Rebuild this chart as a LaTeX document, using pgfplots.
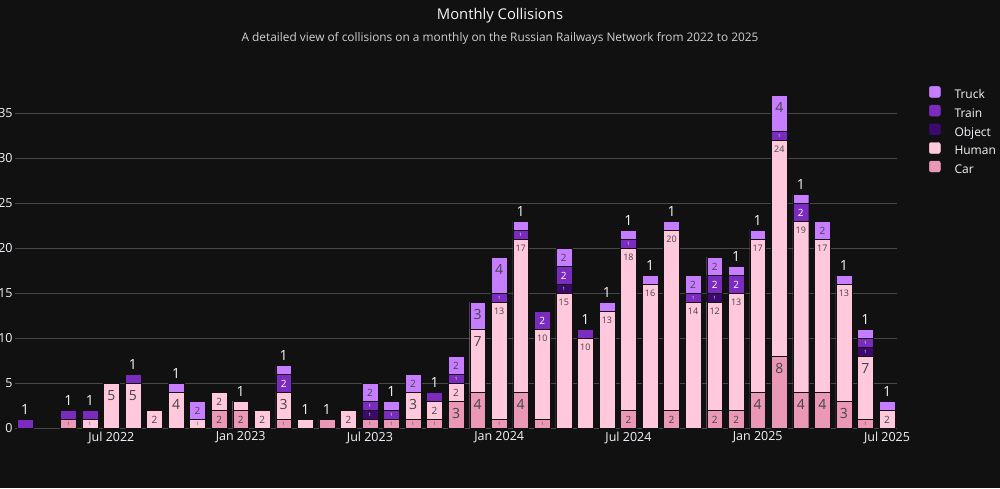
\documentclass[border=0pt]{standalone}
\usepackage{fontspec}
\setmainfont{Open Sans}
\usepackage{pgfplots}
\usepackage{pgfplotstable}
\pgfplotsset{compat=1.18}

\definecolor{bg}{HTML}{111111}
\definecolor{gridc}{HTML}{474747}
\definecolor{txt}{HTML}{F2F5FA}
\definecolor{subtxt}{HTML}{D0D0D0}
\definecolor{ink}{HTML}{444444}
\definecolor{truckc}{HTML}{C77DFF}
\definecolor{trainc}{HTML}{7B2CBF}
\definecolor{objectc}{HTML}{3C096C}
\definecolor{humanc}{HTML}{FFC8DD}
\definecolor{carc}{HTML}{EA98B6}

% m = months since Mar 2022
% l* = label of each segment: 0 none, 99 a single collision on top (written above the bar)
\pgfplotstableread{
m  car human object train truck lc lh lo ltr ltk
0  0   0     0      1     0     0  0  0  99  0
2  1   0     0      1     0     1  0  0  99  0
3  0   1     0      1     0     0  1  0  99  0
4  0   5     0      0     0     0  5  0  0   0
5  0   5     0      1     0     0  5  0  99  0
6  0   2     0      0     0     0  2  0  0   0
7  0   4     0      0     1     0  4  0  0   99
8  0   1     0      0     2     0  1  0  0   2
9  2   2     0      0     0     2  2  0  0   0
10 2   1     0      0     0     2  99 0  0   0
11 0   2     0      0     0     0  2  0  0   0
12 1   3     0      2     1     1  3  0  2   99
13 0   1     0      0     0     0  99 0  0   0
14 1   0     0      0     0     99 0  0  0   0
15 0   2     0      0     0     0  2  0  0   0
16 1   0     1      1     2     1  0  1  1   2
17 1   0     0      1     1     1  0  0  1   99
18 1   3     0      0     2     1  3  0  0   2
19 1   2     0      1     0     1  2  0  99  0
20 3   2     0      1     2     3  2  0  1   2
21 4   7     0      0     3     4  7  0  0   3
22 1   13    0      1     4     1  13 0  1   4
23 4   17    0      1     1     4  17 0  1   99
24 1   10    0      2     0     1  10 0  2   0
25 0   15    1      2     2     0  15 1  2   2
26 0   10    0      1     0     0  10 0  99  0
27 0   13    0      0     1     0  13 0  0   99
28 2   18    0      1     1     2  18 0  1   99
29 0   16    0      0     1     0  16 0  0   99
30 2   20    0      0     1     2  20 0  0   99
31 0   14    0      1     2     0  14 0  1   2
32 2   12    1      2     2     2  12 1  2   2
33 2   13    0      2     1     2  13 0  2   99
34 4   17    0      0     1     4  17 0  0   99
35 8   24    0      1     4     8  24 0  1   4
36 4   19    0      2     1     4  19 0  2   99
37 4   17    0      0     2     4  17 0  0   2
38 3   13    0      0     1     3  13 0  0   99
39 1   7     1      1     1     1  7  1  1   99
40 0   2     0      0     1     0  2  0  0   99
}\collisions

% label of a segment (node sits at the middle of the segment, 9pt per collision)
\newcommand\seglab[1]{%
  \ifnum#1=0\relax
  \else\ifnum#1=99\relax
    \raisebox{9.5pt}{\color{txt}\fontsize{14}{16}\selectfont 1}%
  \else\ifnum#1=1\relax
    \raisebox{-1.6pt}{\fontsize{4.5}{5}\selectfont 1}%
  \else\ifnum#1=2\relax
    \raisebox{-4.8pt}{\fontsize{10}{12}\selectfont 2}%
  \else\ifnum#1<10\relax
    \raisebox{\dimexpr4.5pt*#1-17.5pt\relax}{\fontsize{14}{16}\selectfont #1}%
  \else
    \raisebox{\dimexpr4.5pt*#1-12pt\relax}{\fontsize{9}{11}\selectfont #1}%
  \fi\fi\fi\fi\fi}

\pgfplotsset{
  seg/.style={
    fill=#1, draw=bg, line width=0.4pt,
    point meta=explicit symbolic,
    nodes near coords={\seglab{\pgfplotspointmeta}},
    legend image code/.code={\fill[#1, rounded corners=2pt] (0pt,-1.5pt) rectangle (11pt,9.5pt);},
  },
}

\begin{document}
\begin{tikzpicture}
\useasboundingbox (0pt,0pt) rectangle (1000pt,488pt);
\fill[bg] (0pt,0pt) rectangle (1000pt,488pt);
\node[text=txt, font=\fontsize{14.8}{17}\selectfont] at (500pt,472pt) {Monthly Collisions};
\node[text=subtxt, font=\fontsize{11.85}{14}\selectfont] at (500pt,449.5pt)
  {A detailed view of collisions on a monthly on the Russian Railways Network from 2022 to 2025};
\begin{axis}[
  at={(15.3pt,60pt)}, anchor=south west,
  scale only axis, width=881.6pt, height=350.5pt,
  ybar stacked, bar width=0.735,
  xmin=-0.46, xmax=40.46, ymin=0, ymax=38.95,
  enlargelimits=false, clip=false,
  axis line style={draw=none}, tick style={draw=none},
  ymajorgrids, grid style={gridc, line width=1pt},
  ytick={0,5,...,35},
  xtick={4,10,16,22,28,34,40},
  xticklabels={Jul 2022,Jan 2023,Jul 2023,Jan 2024,Jul 2024,Jan 2025,Jul 2025},
  /pgf/number format/assume math mode=true,
  ticklabel style={font=\fontsize{12.5}{15}\selectfont, text=txt},
  yticklabel style={anchor=east, inner sep=0pt, xshift=-2.5pt},
  xticklabel style={anchor=north, inner sep=0pt, yshift=-3.5pt},
  every node near coord/.append style={anchor=base, inner sep=0pt, text=ink},
  reverse legend,
  legend cell align=left,
  legend style={at={(1,1)}, anchor=north west, xshift=32pt, yshift=-8.5pt,
    draw=none, fill=none, inner sep=0pt, text=txt,
    font=\fontsize{12}{14}\selectfont, row sep=3pt,
    nodes={inner sep=0pt, text depth=3pt},
    /tikz/every odd column/.append style={column sep=14pt}},
]
\addplot[seg=carc] table[x=m, y=car, meta=lc]{\collisions};
\addlegendentry{Car}
\addplot[seg=humanc] table[x=m, y=human, meta=lh]{\collisions};
\addlegendentry{Human}
\addplot[seg=objectc, every node near coord/.append style={text=white}] table[x=m, y=object, meta=lo]{\collisions};
\addlegendentry{Object}
\addplot[seg=trainc, every node near coord/.append style={text=white}] table[x=m, y=train, meta=ltr]{\collisions};
\addlegendentry{Train}
\addplot[seg=truckc] table[x=m, y=truck, meta=ltk]{\collisions};
\addlegendentry{Truck}
\end{axis}
\end{tikzpicture}
\end{document}
